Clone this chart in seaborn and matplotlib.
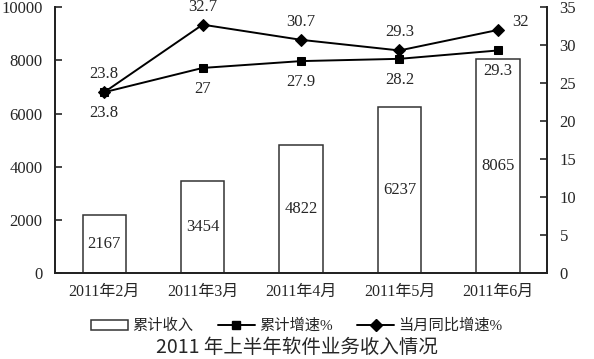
import numpy as np
import pandas as pd
import matplotlib.pyplot as plt
import seaborn as sns
from matplotlib.patches import Patch
from matplotlib.lines import Line2D

# data
months = ["2011年2月", "2011年3月", "2011年4月", "2011年5月", "2011年6月"]
revenue = [2167, 3454, 4822, 6237, 8065]          # 累计收入
cum_growth = [23.8, 27, 27.9, 28.2, 29.3]         # 累计增速%
month_yoy = [23.8, 32.7, 30.7, 29.3, 32]          # 当月同比增速%

sns.set_style("white")
plt.rcParams["font.family"] = ["Liberation Serif", "Noto Sans CJK SC"]
plt.rcParams["font.size"] = 12

fig = plt.figure(figsize=(5.94, 3.59), dpi=100)
ax = fig.add_axes([0.0926, 0.2396, 0.8284, 0.7404])

df = pd.DataFrame({"month": months, "revenue": revenue})
sns.barplot(data=df, x="month", y="revenue", ax=ax, color="white",
            edgecolor="#333333", linewidth=1.1, width=0.44, saturation=1)
for i, v in enumerate(revenue):
    ax.text(i, v / 2, str(v), ha="center", va="center", fontsize=12)

ax.set_xlim(-0.5, 4.5)
ax.set_ylim(0, 10000)
ax.set_yticks(range(0, 10001, 2000))
ax.set_xlabel("")
ax.set_ylabel("")
ax.tick_params(axis="y", direction="in", length=5, width=1.2, labelsize=12, pad=9)
ax.tick_params(axis="x", length=0, labelsize=11.5, pad=8)

ax2 = ax.twinx()
x = np.arange(len(months))
sns.lineplot(x=x, y=cum_growth, ax=ax2, color="black", marker="s",
             markersize=6, linewidth=1.4, markeredgecolor="black")
sns.lineplot(x=x, y=month_yoy, ax=ax2, color="black", marker="D",
             markersize=6, linewidth=1.4, markeredgecolor="black")
ax2.set_ylim(0, 35)
ax2.set_yticks(range(0, 36, 5))
ax2.tick_params(axis="y", direction="in", length=5, width=1.2, labelsize=12, pad=9)

for i, v in enumerate(month_yoy):
    if i == len(month_yoy) - 1:
        ax2.annotate(f"{v:g}", (i, v), xytext=(16, 6), textcoords="offset points",
                     ha="center", va="center", fontsize=12)
    else:
        ax2.annotate(f"{v:g}", (i, v), xytext=(0, 13), textcoords="offset points",
                     ha="center", va="center", fontsize=12)
for i, v in enumerate(cum_growth):
    ax2.annotate(f"{v:g}", (i, v), xytext=(0, -15), textcoords="offset points",
                 ha="center", va="center", fontsize=12)

for a in (ax, ax2):
    a.spines["top"].set_visible(False)
    for s in ("left", "right", "bottom"):
        a.spines[s].set_color("#222222")
        a.spines[s].set_linewidth(1.3)

handles = [
    Patch(facecolor="white", edgecolor="#333333", linewidth=1.1),
    Line2D([0], [0], color="black", marker="s", markersize=6, linewidth=1.4),
    Line2D([0], [0], color="black", marker="D", markersize=6, linewidth=1.4),
]
labels = ["累计收入", "累计增速%", "当月同比增速%"]
fig.legend(handles, labels, loc="center", bbox_to_anchor=(0.5, 0.092), ncol=3,
           frameon=False, fontsize=11, handlelength=2.4, columnspacing=1.6,
           handletextpad=0.3)

fig.text(0.5, 0.004, "2011 年上半年软件业务收入情况", ha="center", va="bottom",
         fontsize=14, family=["Noto Sans CJK SC"])

fig.savefig("out.png", dpi=100)
